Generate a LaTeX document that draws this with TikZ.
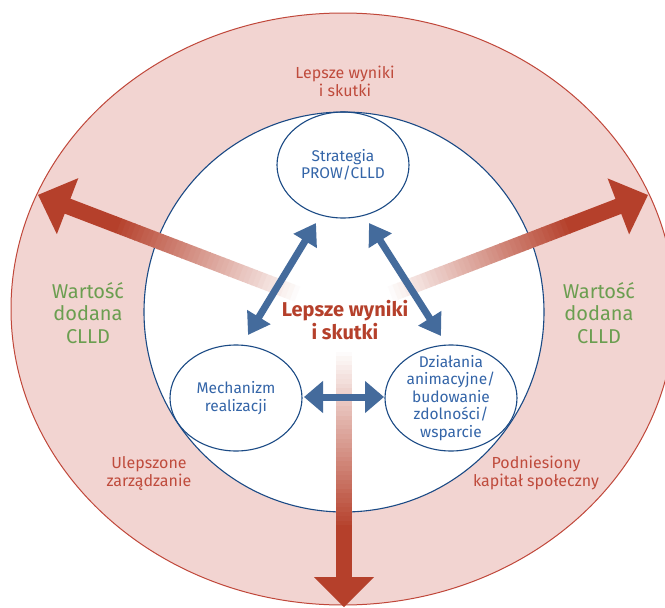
\documentclass[tikz,border=0pt]{standalone}
\usepackage{fontspec}
\setmainfont{Fira Sans}
\usetikzlibrary{arrows.meta,shapes.geometric}
\definecolor{pinkfill}{HTML}{F2D4D1}
\definecolor{outerred}{HTML}{C0473A}
\definecolor{arrowred}{HTML}{B5402B}
\definecolor{redtxt}{HTML}{BF4B3C}
\definecolor{greentxt}{HTML}{6B9E50}
\definecolor{bluetxt}{HTML}{3465A8}
\definecolor{navyline}{HTML}{1B4A85}
\definecolor{arrowblue}{HTML}{446B9C}
\newcommand\myredarrow[5]{%
  \begin{scope}[shift={(344,312)}, rotate=#1]
    \foreach \i in {0,...,39}{
      \pgfmathtruncatemacro\tt{\i*100/39}
      \pgfmathsetmacro\ra{#2+(#3-#2)*\i/40}
      \pgfmathsetmacro\rb{#2+(#3-#2)*(\i+1)/40+0.7}
      \fill[arrowred!\tt!white] (\ra,-8) -- (\rb,-8) -- (\rb,8) -- (\ra,8) -- cycle;
    }
    \fill[arrowred] (#3,-8) -- (#4+1,-8) -- (#4+1,8) -- (#3,8) -- cycle;
    \fill[arrowred] (#4,-30) -- (#5,0) -- (#4,30) -- cycle;
  \end{scope}}
\begin{document}
\begin{tikzpicture}[x=1pt,y=-1pt,
  ell/.style={draw=navyline, line width=1.1pt, ellipse, minimum width=132pt, minimum height=106pt, inner sep=0pt},
  bluelbl/.style={text=bluetxt, align=center, font=\fontsize{15.5}{17.4}\selectfont},
  redlbl/.style={text=redtxt, align=center, font=\fontsize{16}{18}\selectfont},
  greenlbl/.style={text=greentxt, align=center, font=\fontsize{20}{22.5}\selectfont},
  centerlbl/.style={text=arrowred, align=center, font=\fontsize{20}{23}\selectfont\bfseries},
  bluearrow/.style={draw=arrowblue, line width=7pt, {Triangle[width=26pt,length=21pt]}-{Triangle[width=26pt,length=21pt]}},
  bluearrowh/.style={draw=arrowblue, line width=7pt, {Triangle[width=31pt,length=19pt]}-{Triangle[width=31pt,length=19pt]}}
]
\useasboundingbox (0,0) rectangle (665,608);
\clip (0,0) rectangle (665,608);
\fill[white] (0,0) rectangle (665,608);
% outer ellipse
\draw[outerred, fill=pinkfill, line width=1pt] (343,309) ellipse [x radius=332pt, y radius=296pt];
% inner circle
\draw[navyline, fill=white, line width=1.1pt] (344,312) circle [radius=200pt];
% red arrows
\myredarrow{159.05}{45}{246}{296}{327.6}
\myredarrow{21.05}{45}{244}{294}{325.7}
\myredarrow{-90}{35}{218}{265}{295}
% ellipses
\node[ell] (strat) at (343,165) {};
\node[ell] (mech) at (236,398) {};
\node[ell] (dzial) at (451,398) {};
\node[bluelbl] (strattxt) at (strat) {Strategia\\PROW/CLLD};
\node[bluelbl] (mechtxt) at (mech) {Mechanizm\\realizacji};
\node[bluelbl] (dzialtxt) at (dzial) {Działania\\animacyjne/\\budowanie\\zdolności/\\wsparcie};
% blue arrows
\coordinate (s1) at (316,223);
\coordinate (m1) at (248,335);
\coordinate (s2) at (369,223);
\coordinate (d2) at (441,336);
\coordinate (m3) at (304,397);
\coordinate (d3) at (384,397);
\draw[bluearrow] (s1) -- (m1);
\draw[bluearrow] (s2) -- (d2);
\draw[bluearrowh] (m3) -- (d3);
% texts
\node[centerlbl] (center) at (345,320) {Lepsze wyniki\\i skutki};
\node[redlbl] (top) at (345,81) {Lepsze wyniki\\i skutki};
\node[greenlbl] (wl) at (88,313) {Wartość\\dodana\\CLLD};
\node[greenlbl] (wr) at (599,313) {Wartość\\dodana\\CLLD};
\node[redlbl] (ulep) at (149,473) {Ulepszone\\zarządzanie};
\node[redlbl] (podn) at (536,473) {Podniesiony\\kapitał społeczny};
\end{tikzpicture}
\end{document}
